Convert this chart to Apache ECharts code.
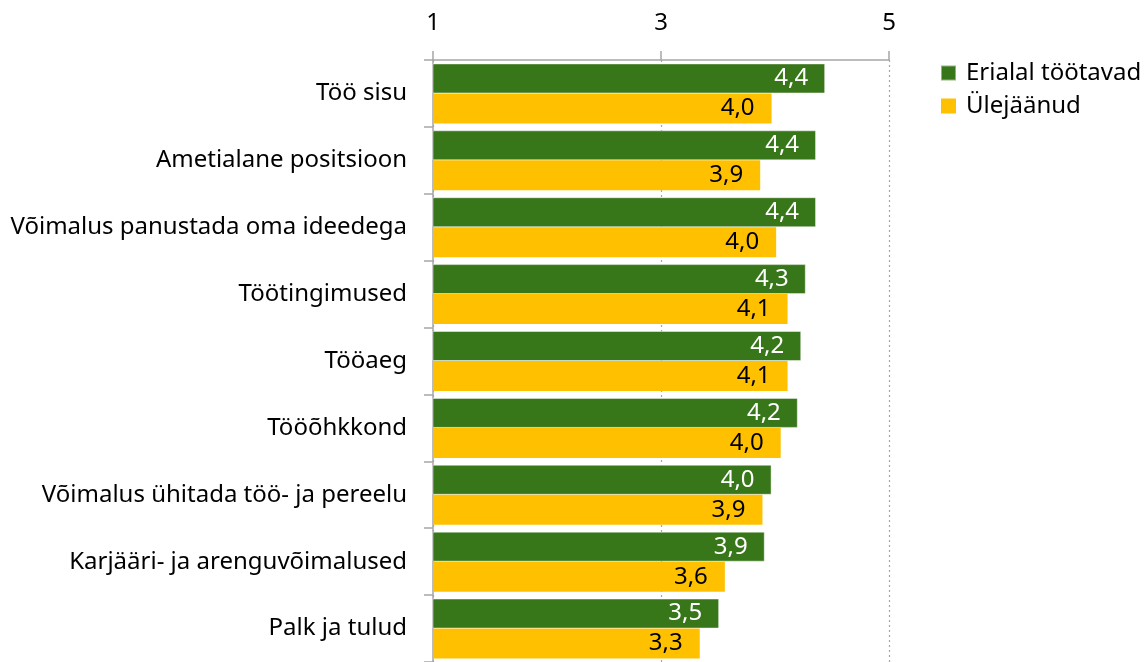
<!DOCTYPE html>
<html>
<head>
<meta charset="utf-8">
<script src="https://cdn.jsdelivr.net/npm/echarts@6/dist/echarts.min.js"></script>
<style>
  html, body { margin: 0; padding: 0; background: #fff; }
  #chart { width: 1147px; height: 662px; }
</style>
</head>
<body>
<div id="chart"></div>
<script>
  // 数据
  var categories = [
    'Töö sisu',
    'Ametialane positsioon',
    'Võimalus panustada oma ideedega',
    'Töötingimused',
    'Tööaeg',
    'Tööõhkkond',
    'Võimalus ühitada töö- ja pereelu',
    'Karjääri- ja arenguvõimalused',
    'Palk ja tulud'
  ];
  var seriesNames = ['Erialal töötavad', 'Ülejäänud'];
  var erialal = [4.44, 4.36, 4.36, 4.27, 4.23, 4.20, 3.97, 3.91, 3.51];
  var ulejaanud = [3.97, 3.87, 4.01, 4.11, 4.11, 4.05, 3.89, 3.56, 3.34];
  var xTicks = [1, 3, 5];

  var font = '"Noto Sans", "Open Sans", sans-serif';
  var green = '#38761a';
  var yellow = '#ffc000';
  var grey = '#a6a6a6';

  function fmt(p) {
    return p.value.toFixed(1).replace('.', ',');
  }

  var chart = echarts.init(document.getElementById('chart'), null, { renderer: 'canvas' });

  chart.setOption({
    animation: false,
    textStyle: { fontFamily: font },
    grid: { left: 433, right: 258, top: 60, bottom: -2 },
    legend: {
      orient: 'vertical',
      left: 935,
      top: 56,
      itemWidth: 15,
      itemHeight: 15,
      itemGap: 9,
      icon: 'rect',
      textStyle: { color: '#000', fontSize: 24, fontFamily: font, lineHeight: 24, padding: [0, 0, 0, 5] },
      data: seriesNames
    },
    xAxis: {
      type: 'value',
      position: 'top',
      min: xTicks[0],
      max: xTicks[xTicks.length - 1],
      interval: 2,
      axisLine: { show: true, lineStyle: { color: grey, width: 1.5 } },
      axisTick: { show: true, length: 9, lineStyle: { color: grey, width: 1.5 } },
      axisLabel: { color: '#000', fontSize: 24, fontFamily: font, margin: 25 },
      splitLine: { show: true, lineStyle: { color: grey, type: [2, 3], width: 1.2 } }
    },
    yAxis: {
      type: 'category',
      inverse: true,
      data: categories,
      axisLine: { show: true, lineStyle: { color: grey, width: 1.5 } },
      axisTick: { show: true, length: 9, lineStyle: { color: grey, width: 1.5 } },
      axisLabel: { color: '#000', fontSize: 24, fontFamily: font, margin: 26 }
    },
    series: [
      {
        name: seriesNames[0],
        type: 'bar',
        data: erialal,
        barWidth: 30,
        barGap: '0%',
        itemStyle: { color: green, borderColor: 'rgba(255,255,255,0.45)', borderWidth: 1 },
        label: {
          show: true,
          position: 'insideRight',
          distance: 17,
          color: '#fff',
          fontSize: 24,
          fontFamily: font,
          formatter: fmt
        }
      },
      {
        name: seriesNames[1],
        type: 'bar',
        data: ulejaanud,
        barWidth: 30,
        itemStyle: { color: yellow },
        label: {
          show: true,
          position: 'insideRight',
          distance: 17,
          color: '#000',
          fontSize: 24,
          fontFamily: font,
          formatter: fmt
        }
      }
    ]
  });
</script>
</body>
</html>
